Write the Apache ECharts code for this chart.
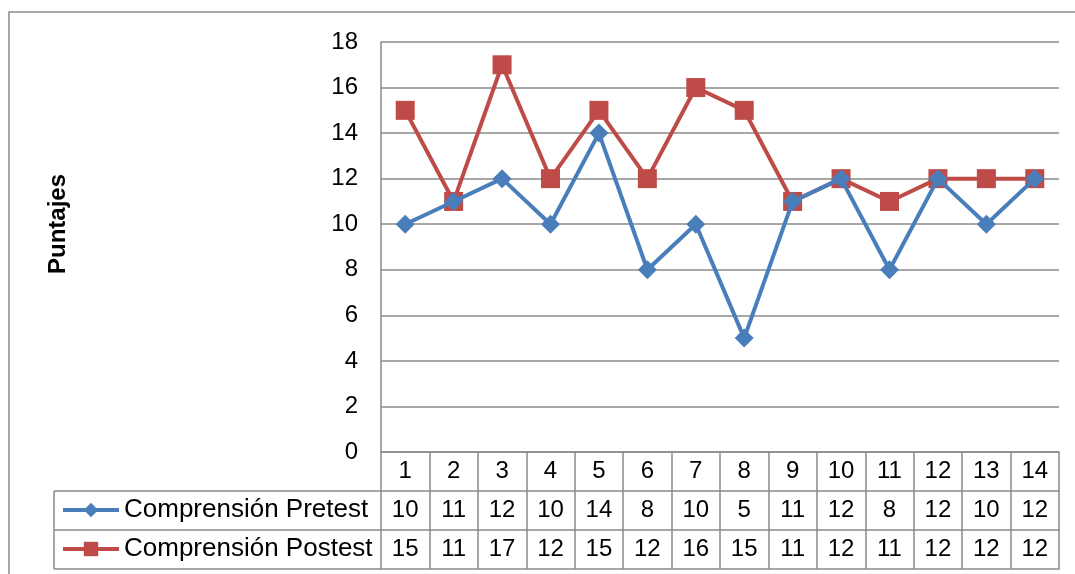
<!DOCTYPE html>
<html>
<head>
<meta charset="utf-8">
<script src="https://cdn.jsdelivr.net/npm/echarts@6/dist/echarts.min.js"></script>
<style>
html,body{margin:0;padding:0;background:#fff;}
#chart{width:1075px;height:574px;}
</style>
</head>
<body>
<div id="chart"></div>
<script>
// datos
var categorias = ['1','2','3','4','5','6','7','8','9','10','11','12','13','14'];
var pretest = [10,11,12,10,14,8,10,5,11,12,8,12,10,12];
var postest = [15,11,17,12,15,12,16,15,11,12,11,12,12,12];
var nombrePre = 'Comprensión Pretest';
var nombrePost = 'Comprensión Postest';

var fuente = 'Liberation Sans';
var gris = '#8a8a8a';

// fila de la tabla: eje de categorias con etiquetas y lineas de celda
function filaTabla(offset, valores){
  return {
    type:'category',
    gridIndex:0,
    position:'bottom',
    offset:offset,
    data:categorias,
    boundaryGap:true,
    axisLine:{show:true,lineStyle:{color:gris,width:1.5}},
    axisTick:{show:valores!==null,length:39,lineStyle:{color:gris,width:1.5}},
    axisLabel:{
      show:valores!==null,
      interval:0,
      margin:7,
      fontFamily:fuente,
      fontSize:24,
      color:'#000',
      formatter:function(v,i){ return valores ? String(valores[i]) : v; }
    },
    splitLine:{show:false}
  };
}

var leyendaTexto = {fontFamily:fuente,fontSize:26,color:'#000'};

var myChart = echarts.init(document.getElementById('chart'));
var option = {
  animation:false,
  backgroundColor:'#fff',
  grid:{left:381,right:16,top:42,bottom:122,containLabel:false},
  legend:[
    {data:[nombrePre],left:61,top:497,padding:0,itemWidth:56,itemHeight:18,itemGap:0,
     lineStyle:{width:4},textStyle:leyendaTexto},
    {data:[nombrePost],left:61,top:536,padding:0,itemWidth:56,itemHeight:18,itemGap:0,
     lineStyle:{width:4},textStyle:leyendaTexto}
  ],
  xAxis:[
    filaTabla(0,categorias),
    filaTabla(39,pretest),
    filaTabla(78,postest),
    filaTabla(117,null)
  ],
  yAxis:{
    type:'value',
    min:0,max:18,interval:2,
    name:'Puntajes',
    nameLocation:'middle',
    nameGap:311,
    nameTextStyle:{fontFamily:fuente,fontSize:24,fontWeight:'bold',color:'#000',padding:[0,0,0,46]},
    axisLine:{show:true,lineStyle:{color:gris,width:1.5}},
    axisTick:{show:false},
    axisLabel:{margin:23,fontFamily:fuente,fontSize:24,color:'#000'},
    splitLine:{lineStyle:{color:gris,width:1.5}}
  },
  graphic:[
    {type:'rect',shape:{x:9,y:12,width:1200,height:700},style:{fill:'none',stroke:gris,lineWidth:1.5},z:-10},
    {type:'line',shape:{x1:54,y1:491,x2:381,y2:491},style:{stroke:gris,lineWidth:1.5}},
    {type:'line',shape:{x1:54,y1:530,x2:381,y2:530},style:{stroke:gris,lineWidth:1.5}},
    {type:'line',shape:{x1:54,y1:569,x2:381,y2:569},style:{stroke:gris,lineWidth:1.5}},
    {type:'line',shape:{x1:54,y1:491,x2:54,y2:569},style:{stroke:gris,lineWidth:1.5}}
  ],
  series:[
    {
      name:nombrePre,type:'line',data:pretest,
      symbol:'diamond',symbolSize:19,
      lineStyle:{color:'#4a7ebb',width:4},
      itemStyle:{color:'#4a7ebb'},
      z:3
    },
    {
      name:nombrePost,type:'line',data:postest,
      symbol:'rect',symbolSize:19,
      lineStyle:{color:'#be4b48',width:4},
      itemStyle:{color:'#be4b48'},
      z:2
    }
  ]
};
myChart.setOption(option);
window.addEventListener('resize',()=>{
  myChart.resize();
})
</script>
</body>
</html>
